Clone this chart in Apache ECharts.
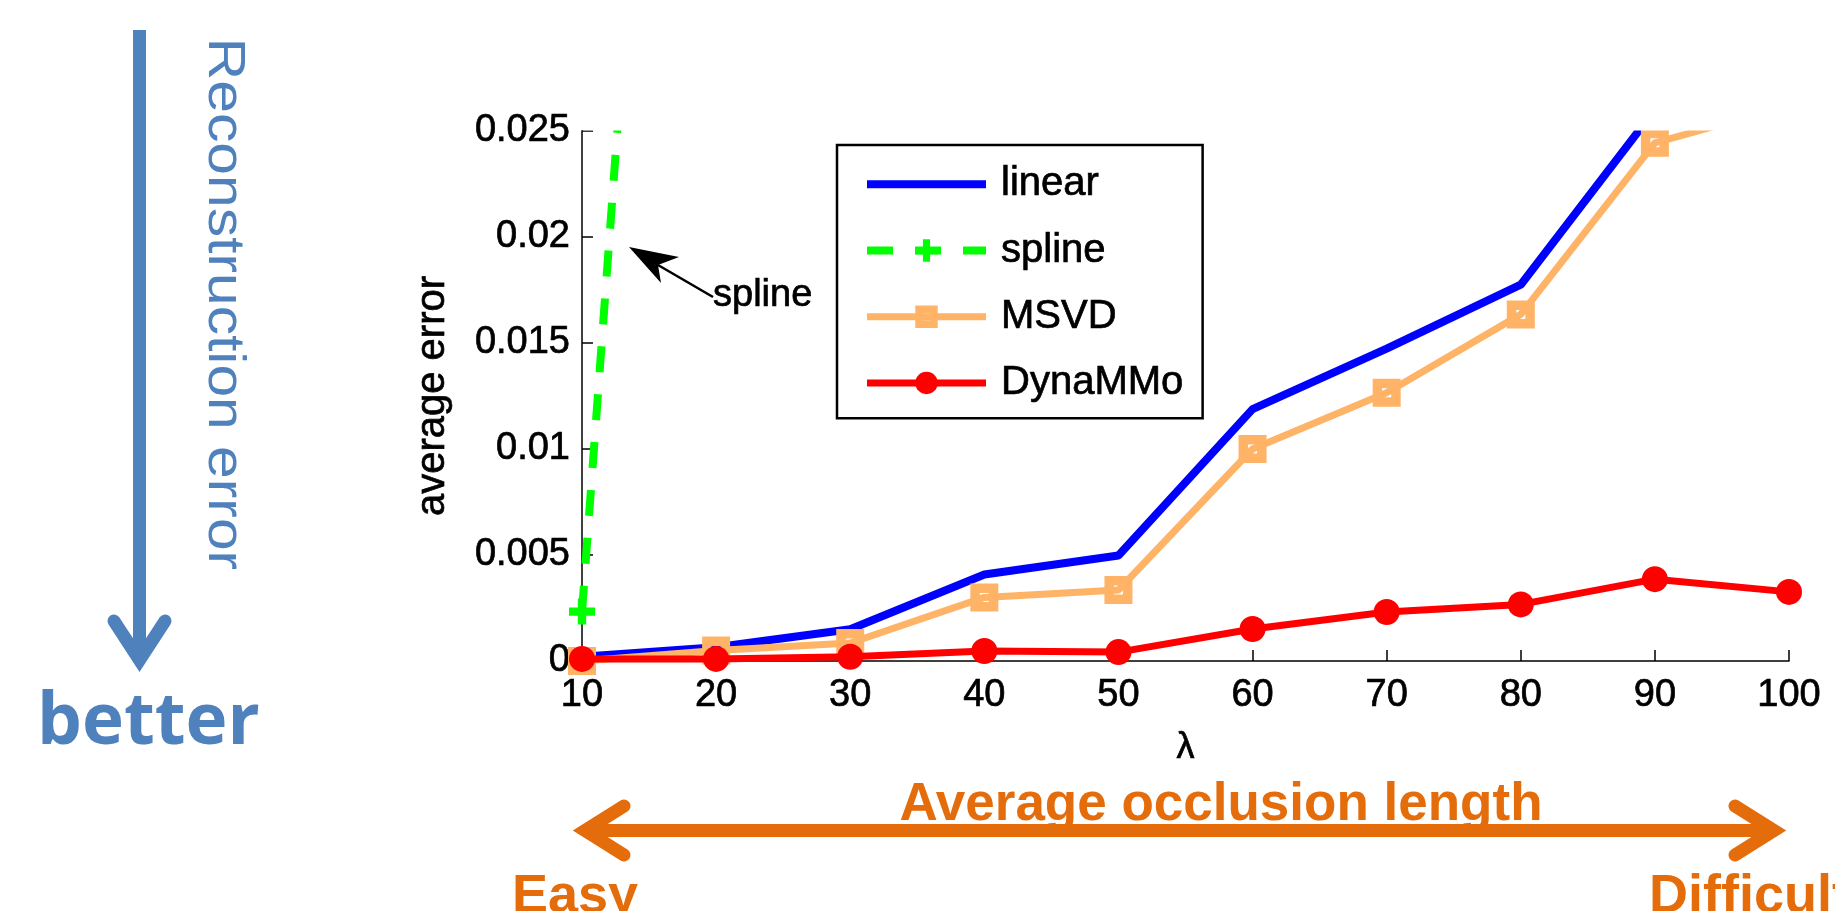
<!DOCTYPE html>
<html><head><meta charset="utf-8">
<script src="https://cdn.jsdelivr.net/npm/echarts@6/dist/echarts.min.js"></script>
<style>html,body{margin:0;padding:0;background:#fff}#c{width:1835px;height:911px}</style>
</head><body><div id="c"></div>
<script>
// ---- data ----
const lambdas = [10, 20, 30, 40, 50, 60, 70, 80, 90, 100];
const linearErr  = [0.0002, 0.00065, 0.0015, 0.00408, 0.00498, 0.01188, 0.01473, 0.01775, 0.0260, 0.031];
const splineErr  = [0.00233, 0.0885];           // beyond λ=20 the curve is off the chart
const msvdErr    = [0.0, 0.0005, 0.00085, 0.0030, 0.00335, 0.0100, 0.01265, 0.01635, 0.02444, 0.0262];
const dynammoErr = [0.0001, 0.0001, 0.0002, 0.00047, 0.00042, 0.00151, 0.00231, 0.00267, 0.00386, 0.00326];
const seriesNames = ['linear', 'spline', 'MSVD', 'DynaMMo'];
const yMin = 0, yMax = 0.025, yStep = 0.005;
const xMin = 10, xMax = 100, xStep = 10;

const FONT = "'Liberation Sans', Arial, Helvetica, sans-serif";
const pairs = arr => arr.map((v, i) => [lambdas[i], v]);
const plusPath = 'path://M3.4,0H6.6V3.4H10V6.6H6.6V10H3.4V6.6H0V3.4H3.4Z';
const hollowSquarePath = 'path://M0,0H28V28H0ZM9.5,9.5V18.5H18.5V9.5Z';
const GRID = {left: 582, right: 46, top: 131, bottom: 250};
const heavy = {textBorderColor: '#000', textBorderWidth: 0.7};

const chart = echarts.init(document.getElementById('c'), null, {renderer: 'canvas'});
chart.setOption({
  backgroundColor: '#ffffff',
  animation: false,
  grid: Object.assign({containLabel: false}, GRID),
  xAxis: {
    type: 'value', min: xMin, max: xMax, interval: xStep,
    name: 'λ', nameLocation: 'middle', nameGap: 69,
    nameTextStyle: Object.assign({fontSize: 36, fontFamily: FONT, color: '#000'}, heavy),
    axisLine: {show: true, onZero: false, lineStyle: {color: '#000', width: 1.5}},
    axisTick: {show: true, inside: true, length: 11, lineStyle: {color: '#000', width: 1.5}},
    axisLabel: Object.assign({fontSize: 38, fontFamily: FONT, color: '#000', margin: 16}, heavy),
    splitLine: {show: false}
  },
  yAxis: {
    type: 'value', min: yMin, max: yMax, interval: yStep,
    name: 'average error', nameLocation: 'middle', nameGap: 129, nameRotate: 90,
    nameTextStyle: Object.assign({fontSize: 40, fontFamily: FONT, color: '#000'}, heavy),
    axisLine: {show: true, lineStyle: {color: '#000', width: 1.5}},
    axisTick: {show: true, inside: true, length: 11, lineStyle: {color: '#000', width: 1.5}},
    axisLabel: Object.assign({fontSize: 38, fontFamily: FONT, color: '#000', margin: 12}, heavy),
    splitLine: {show: false}
  },
  legend: {
    data: [
      {name: seriesNames[0], itemStyle: {opacity: 0}},
      {name: seriesNames[1]},
      {name: seriesNames[2]},
      {name: seriesNames[3]}
    ],
    orient: 'vertical', left: 837, top: 145,
    padding: [19, 19, 15, 26],
    itemWidth: 119, itemHeight: 28, itemGap: 25.5,
    borderColor: '#000', borderWidth: 2.5, backgroundColor: '#fff', borderRadius: 0,
    lineStyle: {width: 'inherit'},
    itemStyle: {borderWidth: 'inherit'},
    selectedMode: false,
    textStyle: Object.assign({fontSize: 40, fontFamily: FONT, color: '#000', padding: [0, 0, 0, 10]}, heavy)
  },
  series: [
    {
      name: seriesNames[0], type: 'line', data: pairs(linearErr),
      symbol: 'circle', showSymbol: false, clip: true,
      lineStyle: {color: '#0000FF', width: 8}, itemStyle: {color: '#0000FF'}, z: 2
    },
    {
      name: seriesNames[1], type: 'line', data: pairs(splineErr),
      symbol: plusPath, symbolSize: 26, clip: true,
      lineStyle: {color: '#00FF00', width: 8, type: [26, 22]},
      itemStyle: {color: '#00FF00'}, z: 3
    },
    {
      name: seriesNames[2], type: 'line', data: pairs(msvdErr),
      symbol: hollowSquarePath, symbolSize: 28, clip: true,
      lineStyle: {color: '#FFB366', width: 7},
      itemStyle: {color: '#FFB366'}, z: 4
    },
    {
      name: seriesNames[3], type: 'line', data: pairs(dynammoErr),
      symbol: 'circle', symbolSize: 26, clip: true,
      lineStyle: {color: '#FF0000', width: 7},
      itemStyle: {color: '#FF0000'}, z: 5
    }
  ],
  graphic: [
    // crisp clipping at the top of the axes (like the original plot)
    {type: 'rect', z: 100, shape: {x: GRID.left + 1, y: 0, width: 1835 - GRID.left, height: GRID.top - 0.5}, style: {fill: '#fff'}},
    // spline annotation
    {type: 'line', z: 101, shape: {x1: 658, y1: 265, x2: 713, y2: 297}, style: {stroke: '#000', lineWidth: 2.5}},
    {type: 'polygon', z: 101, shape: {points: [[629, 247], [679, 257], [658, 265], [661, 283]]}, style: {fill: '#000'}},
    {type: 'text', z: 101, x: 713, y: 296, style: {text: 'spline', font: '38px ' + FONT, fill: '#000', align: 'left', verticalAlign: 'middle', stroke: '#000', lineWidth: 0.7}},
    // left: reconstruction error arrow
    {type: 'line', shape: {x1: 139.5, y1: 30, x2: 139.5, y2: 656}, style: {stroke: '#4F81BD', lineWidth: 13}},
    {type: 'polyline', shape: {points: [[114, 621], [139.5, 660], [165, 621]]}, style: {stroke: '#4F81BD', lineWidth: 13, lineCap: 'round', lineJoin: 'miter', fill: null}},
    {type: 'text', x: 223, y: 304, rotation: -Math.PI / 2, scaleX: 1.13, style: {text: 'Reconstruction error', font: '52px ' + FONT, fill: '#4F81BD', align: 'center', verticalAlign: 'middle'}},
    {type: 'text', x: 37, y: 724, style: {text: 'better', font: "bold 71px 'Open Sans', sans-serif", fill: '#4F81BD', align: 'left', verticalAlign: 'middle'}},
    // bottom: occlusion length double arrow
    {type: 'line', shape: {x1: 585, y1: 830.5, x2: 1774, y2: 830.5}, style: {stroke: '#E46C0A', lineWidth: 13}},
    {type: 'polyline', shape: {points: [[624, 806], [585, 830.5], [624, 855]]}, style: {stroke: '#E46C0A', lineWidth: 13, lineCap: 'round', lineJoin: 'miter', fill: null}},
    {type: 'polyline', shape: {points: [[1735, 806], [1774, 830.5], [1735, 855]]}, style: {stroke: '#E46C0A', lineWidth: 13, lineCap: 'round', lineJoin: 'miter', fill: null}},
    {type: 'text', x: 1221, y: 805, style: {text: 'Average occlusion length', font: 'bold 53px ' + FONT, fill: '#E46C0A', align: 'center', verticalAlign: 'middle'}},
    {type: 'text', x: 512, y: 897, style: {text: 'Easy', font: 'bold 54px ' + FONT, fill: '#E46C0A', align: 'left', verticalAlign: 'middle'}},
    {type: 'text', x: 1649, y: 897, style: {text: 'Difficult', font: 'bold 54px ' + FONT, fill: '#E46C0A', align: 'left', verticalAlign: 'middle'}}
  ]
});
</script>
</body></html>
